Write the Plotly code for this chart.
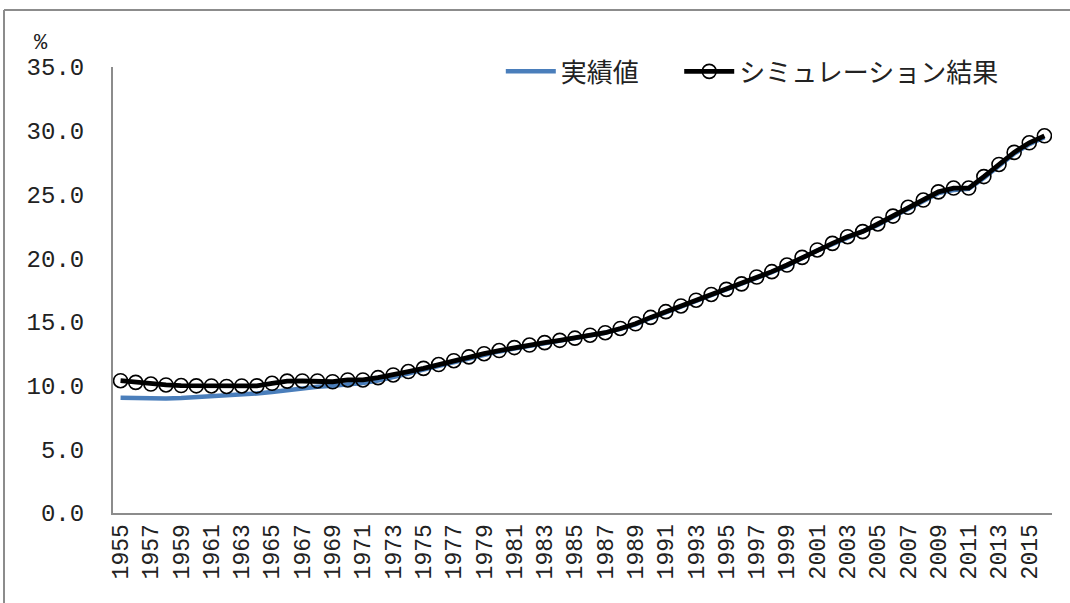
import plotly.graph_objects as go

years = [str(y) for y in range(1955, 2017)]

actual = [9.05, 9.0, 8.97, 8.98, 9.02, 9.08, 9.15, 9.2, 9.28, 9.38,
          9.5, 9.65, 9.8, 9.9, 9.98, 10.08, 10.2, 10.4, 10.65, 10.95,
          11.25, 11.55, 11.85, 12.15, 12.42, 12.68, 12.9, 13.1, 13.3, 13.5,
          13.7, 13.92, 14.15, 14.45, 14.8, 15.3, 15.75, 16.2, 16.65, 17.1,
          17.5, 17.95, 18.45, 18.9, 19.4, 20.0, 20.6, 21.1, 21.6, 22.05,
          22.6, 23.25, 23.9, 24.5, 25.1, 25.35, 25.45, 26.3, 27.25, 28.2,
          28.95, 29.5]

simulation = [10.38, 10.25, 10.12, 10.05, 10.0, 9.98, 9.97, 9.93, 9.97, 9.98,
              10.18, 10.35, 10.36, 10.36, 10.3, 10.44, 10.44, 10.62, 10.83, 11.1,
              11.35, 11.65, 11.95, 12.25, 12.5, 12.75, 12.98, 13.18, 13.37, 13.55,
              13.72, 13.95, 14.15, 14.48, 14.85, 15.35, 15.8, 16.25, 16.7, 17.15,
              17.55, 17.98, 18.52, 18.94, 19.46, 20.06, 20.64, 21.16, 21.68, 22.08,
              22.68, 23.3, 23.99, 24.56, 25.2, 25.5, 25.5, 26.4, 27.35, 28.3,
              29.05, 29.6]

x_ticks = years[::2]
y_ticks = [0, 5, 10, 15, 20, 25, 30, 35]
y_tick_labels = ["0.0", "5.0", "10.0", "15.0", "20.0", "25.0", "30.0", "35.0"]

name_actual = "実績値"
name_sim = "シミュレーション結果"
unit_label = "%"

fig = go.Figure()
fig.add_trace(go.Scatter(
    x=years, y=actual, name=name_actual, mode="lines",
    line=dict(color="#4A7EBB", width=4.5), legend="legend",
))
fig.add_trace(go.Scatter(
    x=years, y=simulation, name=name_sim, mode="lines+markers",
    line=dict(color="#000000", width=4.8),
    marker=dict(symbol="circle-open", size=14, color="#000000",
                line=dict(color="#000000", width=1.6)),
    legend="legend2",
))

mono = "Liberation Mono, DejaVu Sans Mono, monospace"
jp = "Noto Sans CJK JP, sans-serif"

legend_style = dict(
    orientation="h", xanchor="left", y=0.99, yanchor="middle",
    font=dict(family=jp, size=26, color="#222222"),
    bgcolor="rgba(0,0,0,0)", itemwidth=50,
)

fig.update_layout(
    width=1070, height=603,
    margin=dict(l=113, r=18, t=67, b=90),
    paper_bgcolor="white", plot_bgcolor="white",
    showlegend=True,
    legend=dict(x=0.413, **legend_style),
    legend2=dict(x=0.603, **legend_style),
    xaxis=dict(
        type="category", tickmode="array", tickvals=x_ticks, ticktext=x_ticks,
        range=[-0.5, len(years) - 0.5], autorange=False,
        tickangle=-90, showgrid=False, showline=True, linecolor="#8C8C8C",
        linewidth=2, ticks="", zeroline=False,
        tickfont=dict(family=mono, size=23, color="#222222"),
    ),
    yaxis=dict(
        range=[0, 35], tickmode="array", tickvals=y_ticks, ticktext=y_tick_labels,
        showgrid=False, showline=True, linecolor="#8C8C8C", linewidth=2,
        ticks="", zeroline=False, ticklabelstandoff=22,
        tickfont=dict(family=mono, size=24, color="#222222"),
    ),
    annotations=[dict(
        text=unit_label, xref="paper", yref="paper",
        x=(41 - 113) / 939, y=(513 - 43) / 446, xanchor="center", yanchor="middle",
        showarrow=False, font=dict(family=mono, size=22, color="#222222"),
    )],
    shapes=[
        dict(type="line", xref="paper", yref="paper",
             x0=(4 - 113) / 939, x1=(1072 - 113) / 939,
             y0=(513 - 10) / 446, y1=(513 - 10) / 446,
             line=dict(color="#8C8C8C", width=2)),
        dict(type="line", xref="paper", yref="paper",
             x0=(4 - 113) / 939, x1=(4 - 113) / 939,
             y0=(513 - 10) / 446, y1=(513 - 605) / 446,
             line=dict(color="#8C8C8C", width=2)),
    ],
)

fig.write_html("out.html")
